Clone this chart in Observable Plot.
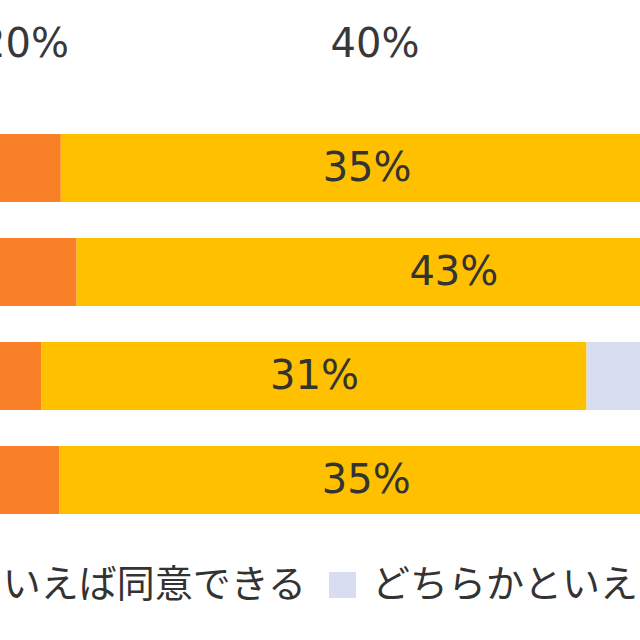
<!DOCTYPE html>
<html><head><meta charset="utf-8">
<script src="https://cdn.jsdelivr.net/npm/d3@7"></script>
<script src="https://cdn.jsdelivr.net/npm/@observablehq/plot@0.6"></script>
<style>
body{margin:0;background:#fff;overflow:hidden}
#chart{width:640px;height:640px;position:relative;overflow:hidden;background:#fff}
#chart svg{display:block}
#legend{position:relative;width:640px;height:95px;overflow:hidden}
#legend .row{position:absolute;top:2px;left:0;display:flex;align-items:center;white-space:nowrap;height:66px;font-size:38px;font-family:"Noto Sans CJK JP","Noto Sans CJK SC",sans-serif;color:#333}
#legend .sw{display:inline-block;width:27px;height:26px;margin:0 16px 0 23px;transform:translateY(5px)}
#legend .sw.first{margin-left:0}
</style></head><body>
<div id="chart"></div>
<script>
// categories (row labels are outside the visible crop)
const categories = ["全体", "男性", "女性", "その他"];
const series = ["同意できる", "どちらかといえば同意できる", "どちらかといえば同意できない", "同意できない"];
const colors = ["#F98026", "#FFC000", "#D9DDF0", "#A6A6A6"];
// series values (%)
const agree = [22.1, 23.0, 21.0, 22.0];
const somewhatAgree = [34.9, 43.0, 31.1, 35.0];
const somewhatDisagree = [28, 22, 31, 28];
const disagree = [15, 12, 17, 15];
// tick labels
const xTicks = [20, 40];

const valueArrays = [agree, somewhatAgree, somewhatDisagree, disagree];
const rows = [];
categories.forEach((c, i) => {
  valueArrays.forEach((arr, j) => rows.push({category: c, series: series[j], value: arr[i]}));
});

const font = "DejaVu Sans, Noto Sans CJK JP, sans-serif";
const plot = Plot.plot({
  width: 640,
  height: 545,
  margin: 0,
  style: {fontFamily: font, background: "#fff", overflow: "hidden"},
  x: {domain: [18.63, 55.15], axis: null},
  y: {domain: categories, range: [97.25, 551.25], padding: 0.345, axis: null},
  color: {domain: series, range: colors},
  marks: [
    Plot.barX(rows, Plot.stackX({x: "value", y: "category", fill: "series", order: series, clip: true})),
    Plot.text(rows, Plot.stackX({
      x: "value", y: "category", z: "series", order: series,
      text: d => Math.round(d.value) + "%",
      fontSize: 40, fill: "#333", fontFamily: font, clip: true
    })),
    Plot.text(xTicks, {
      x: d => d, frameAnchor: "top", dy: 28.5,
      text: d => d + "%", fontSize: 40, fill: "#383838", fontFamily: font
    })
  ]
});
const chart = document.getElementById("chart");
chart.appendChild(plot);

// legend below the SVG
const legend = document.createElement("div");
legend.id = "legend";
const row = document.createElement("div");
row.className = "row";
const labels = [];
series.forEach((s, i) => {
  const sw = document.createElement("span");
  sw.className = "sw" + (i === 0 ? " first" : "");
  sw.style.background = colors[i];
  const t = document.createElement("span");
  t.textContent = s;
  row.appendChild(sw);
  row.appendChild(t);
  labels.push(t);
});
legend.appendChild(row);
chart.appendChild(legend);
// align: legend entry for series[1] ends at x≈306
const r = labels[1].getBoundingClientRect();
row.style.left = (306 - r.right) + "px";
</script>
</body></html>
